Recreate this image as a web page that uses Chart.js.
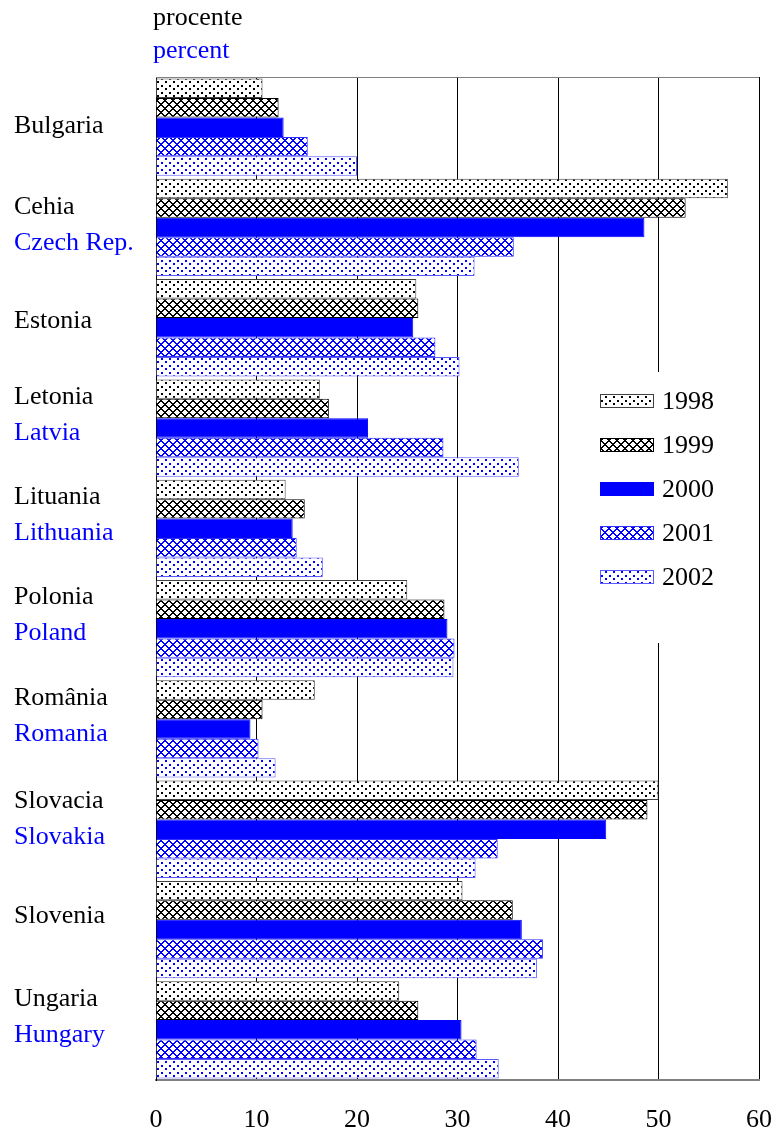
<!DOCTYPE html>
<html>
<head>
<meta charset="utf-8">
<script src="https://cdn.jsdelivr.net/npm/chart.js@4/dist/chart.umd.min.js"></script>
<style>
  body { margin: 0; background: #fff; }
  #wrap { width: 776px; height: 1135px; }
</style>
</head>
<body>
<div id="wrap"><canvas id="barChart" width="776" height="1135"></canvas></div>
<script>
/* =========================
   DATA
========================= */

const labelsRo = ["Bulgaria", "Cehia", "Estonia", "Letonia", "Lituania",
  "Polonia", "România", "Slovacia", "Slovenia", "Ungaria"];

const labelsEn = ["", "Czech Rep.", "", "Latvia", "Lithuania",
  "Poland", "Romania", "Slovakia", "", "Hungary"];

const years = ["1998", "1999", "2000", "2001", "2002"];

const v1998 = [10.6, 56.9, 25.9, 16.3, 12.9, 25.0, 15.8, 50.0, 30.5, 24.2];
const v1999 = [12.2, 52.7, 26.1, 17.2, 14.8, 28.7, 10.6, 48.9, 35.5, 26.1];
const v2000 = [12.7, 48.6, 25.6, 21.1, 13.6, 29.0, 9.4, 44.8, 36.4, 30.4];
const v2001 = [15.1, 35.6, 27.8, 28.6, 14.0, 29.7, 10.2, 34.0, 38.5, 31.9];
const v2002 = [20.0, 31.7, 30.2, 36.1, 16.6, 29.6, 11.9, 31.8, 37.9, 34.1];

const xMin = 0;
const xMax = 60;
const xStep = 10;

const FONT = "'Liberation Serif', 'Times New Roman', serif";
const BLUE = "#0000ff";

// small vertical nudges for the hand-placed category labels (px)
const labelNudge = [6, 11, 0, 0, 0, 0, 0, 3, -6, 0];

/* =========================
   PATTERNS
========================= */

function dotPattern(color) {
  const c = document.createElement("canvas");
  c.width = 8;
  c.height = 7;
  const g = c.getContext("2d");
  g.fillStyle = "#fff";
  g.fillRect(0, 0, 8, 7);
  g.fillStyle = color;
  g.fillRect(1, 1, 2, 2);
  g.fillRect(5, 4, 2, 2);
  return g.createPattern(c, "repeat");
}

function crossPattern(color) {
  const c = document.createElement("canvas");
  c.width = 8;
  c.height = 8;
  const g = c.getContext("2d");
  g.fillStyle = "#fff";
  g.fillRect(0, 0, 8, 8);
  g.fillStyle = color;
  for (let x = 0; x < 8; x++) {
    for (let y = 0; y < 8; y++) {
      if ((x + y) % 8 < 2 || (x - y + 8) % 8 < 2) {
        g.fillRect(x, y, 1, 1);
      }
    }
  }
  return g.createPattern(c, "repeat");
}

const fills = [
  dotPattern("#000"),
  crossPattern("#000"),
  BLUE,
  crossPattern(BLUE),
  dotPattern(BLUE)
];

const borders = ["#404040", "#000000", BLUE, "#3030ff", "#5a5aff"];

const seriesValues = [v1998, v1999, v2000, v2001, v2002];

/* =========================
   PLUGIN: LABELS + LEGEND
========================= */

const decorPlugin = {
  id: "decor",

  beforeDatasetsDraw(chart) {
    const ctx = chart.ctx;
    const a = chart.chartArea;
    ctx.save();
    ctx.strokeStyle = "#808080";
    ctx.lineWidth = 1;
    ctx.beginPath();
    ctx.moveTo(a.left, a.top + 0.5);
    ctx.lineTo(a.right, a.top + 0.5);
    ctx.stroke();
    ctx.restore();
  },

  afterDraw(chart) {
    const ctx = chart.ctx;
    const yScale = chart.scales.y;

    ctx.save();
    ctx.font = "26px " + FONT;
    ctx.textAlign = "left";
    ctx.textBaseline = "middle";

    // unit title
    ctx.fillStyle = "#000";
    ctx.fillText("procente", 153, 18);
    ctx.fillStyle = BLUE;
    ctx.fillText("percent", 153, 51);

    // category labels
    labelsRo.forEach((ro, i) => {
      const yc = yScale.getPixelForValue(i) + labelNudge[i];
      if (labelsEn[i]) {
        ctx.fillStyle = "#000";
        ctx.fillText(ro, 14, yc - 31);
        ctx.fillStyle = BLUE;
        ctx.fillText(labelsEn[i], 14, yc + 5);
      } else {
        ctx.fillStyle = "#000";
        ctx.fillText(ro, 14, yc - 7);
      }
    });

    // legend
    ctx.fillStyle = "#fff";
    ctx.fillRect(590, 372, 132, 271);

    years.forEach((yr, i) => {
      const cy = 401 + i * 44;
      ctx.fillStyle = fills[i];
      ctx.fillRect(600, cy - 7, 54, 14);
      ctx.strokeStyle = borders[i];
      ctx.lineWidth = 1;
      ctx.strokeRect(600.5, cy - 6.5, 53, 13);
      ctx.fillStyle = "#000";
      ctx.fillText(yr, 662, cy + 1);
    });

    ctx.restore();
  }
};

/* =========================
   CHART
========================= */

const ctx = document.getElementById("barChart").getContext("2d");

new Chart(ctx, {
  type: "bar",

  data: {
    labels: labelsRo,
    datasets: years.map((yr, i) => ({
      label: yr,
      data: seriesValues[i],
      backgroundColor: fills[i],
      borderColor: borders[i],
      borderWidth: 1,
      borderSkipped: "start",
      barPercentage: 1.0,
      categoryPercentage: 0.97
    }))
  },

  options: {
    indexAxis: "y",
    responsive: false,
    animation: false,
    devicePixelRatio: 1,

    layout: {
      padding: { left: 156, top: 77, right: 17, bottom: 0 }
    },

    plugins: {
      legend: { display: false },
      tooltip: { enabled: false }
    },

    scales: {
      x: {
        min: xMin,
        max: xMax,
        ticks: {
          stepSize: xStep,
          color: "#000",
          padding: 25,
          font: { family: FONT, size: 26 }
        },
        grid: {
          color: "#000",
          lineWidth: 1,
          drawTicks: false
        },
        border: { display: true, color: "#808080", width: 2 },
        afterFit(scale) {
          scale.height = 55;
          scale.paddingLeft = 0;
          scale.paddingRight = 0;
        }
      },

      y: {
        ticks: { display: false },
        grid: { display: false },
        border: { display: true, color: "#000", width: 1 },
        afterFit(scale) {
          scale.width = 0;
        }
      }
    }
  },

  plugins: [decorPlugin]
});
</script>
</body>
</html>
